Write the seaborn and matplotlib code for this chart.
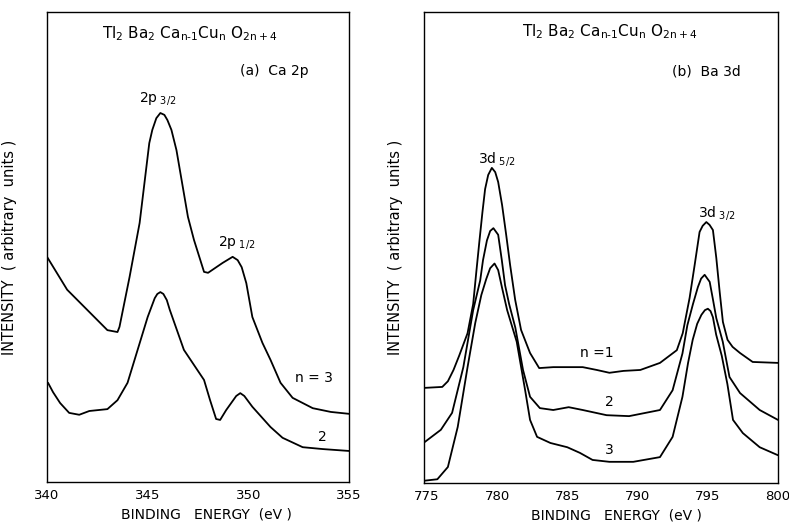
import matplotlib
matplotlib.use("Agg")
import matplotlib.pyplot as plt
import seaborn as sns
import pandas as pd

# ---------------- data ----------------
# (a) Ca 2p
ca_energy_n3 = [340.0, 341.0, 342.0, 343.0, 343.5, 343.6, 344.1, 344.6, 345.08, 345.23, 345.43, 345.63,
                345.83, 345.98, 346.18, 346.43, 347.0, 347.3, 347.8, 348.0, 348.72, 349.22, 349.47, 349.67,
                349.9, 350.2, 350.7, 351.1, 351.6, 352.2, 353.2, 354.1, 355.0]
ca_int_n3 = [47.9, 40.9, 36.6, 32.3, 31.9, 33.0, 43.6, 55.1, 72.1, 74.9, 77.4, 78.5,
             78.1, 77.0, 74.9, 70.6, 56.4, 51.5, 44.7, 44.5, 46.6, 47.9, 47.2, 45.7,
             42.3, 35.1, 29.6, 26.0, 21.1, 17.9, 15.7, 14.9, 14.5]

ca_energy_n2 = [340.05, 340.3, 340.65, 341.1, 341.6, 342.1, 343.0, 343.5, 344.0, 344.5, 345.0, 345.35,
                345.48, 345.63, 345.78, 345.95, 346.1, 346.8, 347.3, 347.8, 348.1, 348.4, 348.6, 348.9,
                349.4, 349.6, 349.8, 350.2, 351.1, 351.7, 352.7, 353.7, 355.0]
ca_int_n2 = [21.1, 19.1, 16.8, 14.7, 14.3, 15.1, 15.5, 17.4, 21.1, 28.1, 35.1, 39.1,
             40.0, 40.4, 40.0, 38.7, 36.6, 28.1, 24.9, 21.7, 17.4, 13.4, 13.2, 15.3,
             18.3, 18.9, 18.3, 16.0, 11.7, 9.4, 7.4, 7.0, 6.6]

# (b) Ba 3d
ba_energy_n1 = [774.85, 776.1, 776.5, 776.9, 777.3, 777.9, 778.3, 778.53, 778.75, 778.96, 779.15, 779.37,
                779.63, 779.87, 780.08, 780.36, 780.65, 780.93, 781.29, 781.71, 782.35, 783.0, 784.0, 785.0,
                786.1, 787.1, 788.0, 789.0, 790.2, 791.6, 792.8, 793.22, 793.71, 794.07, 794.42, 794.64,
                794.9, 795.13, 795.37, 795.61, 795.85, 796.08, 796.41, 796.77, 797.3, 798.2, 800.0]
ba_int_n1 = [20.2, 20.4, 21.6, 24.0, 27.0, 31.8, 38.0, 45.0, 51.5, 57.5, 62.4, 65.4,
             66.9, 66.0, 63.9, 59.0, 52.7, 46.3, 38.9, 32.5, 27.6, 24.4, 24.6, 24.6,
             24.6, 24.0, 23.4, 23.8, 24.0, 25.5, 28.2, 31.8, 39.3, 46.3, 53.3, 54.6,
             55.4, 54.8, 53.7, 47.8, 40.6, 34.2, 30.4, 28.9, 27.6, 25.7, 25.5]

ba_energy_n2 = [774.85, 776.0, 776.8, 777.6, 778.3, 778.8, 779.0, 779.28, 779.51, 779.74, 780.08, 780.34,
                780.57, 780.86, 781.3, 781.85, 782.35, 783.05, 784.0, 785.1, 786.1, 787.8, 789.4, 791.6,
                792.5, 793.2, 793.55, 793.95, 794.3, 794.53, 794.78, 795.14, 795.37, 795.61, 796.07, 796.55,
                797.3, 798.7, 800.0]
ba_int_n2 = [8.7, 11.3, 14.9, 24.6, 36.7, 43.0, 47.3, 51.5, 53.5, 54.1, 52.7, 47.3,
             42.0, 38.0, 33.0, 24.0, 18.3, 15.9, 15.5, 16.1, 15.5, 14.4, 14.2, 15.5,
             19.7, 27.5, 33.5, 38.0, 41.6, 43.4, 44.2, 42.7, 39.0, 35.0, 30.0, 22.5,
             19.1, 15.5, 13.4]

ba_energy_n3 = [774.85, 775.75, 776.5, 777.2, 777.9, 778.45, 778.88, 779.23, 779.51, 779.82, 780.08, 780.36,
                780.72, 781.4, 782.0, 782.35, 782.85, 783.8, 785.0, 785.9, 786.8, 788.0, 789.7, 791.6,
                792.5, 793.2, 793.6, 793.93, 794.25, 794.55, 794.8, 795.01, 795.2, 795.37, 795.6, 796.0,
                796.4, 796.8, 797.5, 798.7, 800.0]
ba_int_n3 = [0.5, 0.8, 3.4, 11.9, 24.6, 34.0, 39.9, 43.3, 45.6, 46.6, 45.2, 41.4,
             36.7, 30.0, 19.7, 13.4, 9.8, 8.5, 7.6, 6.4, 4.9, 4.5, 4.5, 5.5,
             9.8, 18.3, 25.5, 30.4, 33.8, 35.7, 36.7, 37.0, 36.5, 35.2, 31.5, 27.0,
             21.0, 13.4, 10.6, 7.6, 5.9]

ca_ticks = [340, 345, 350, 355]
ba_ticks = [775, 780, 785, 790, 795, 800]

# ---------------- style ----------------
sns.set_theme(style="white")
plt.rcParams["font.family"] = ["DejaVu Sans"]
plt.rcParams["mathtext.default"] = "regular"

fig = plt.figure(figsize=(7.89, 5.24), dpi=100)
axL = fig.add_axes([0.0596, 0.0802, 0.3827, 0.8970])
axR = fig.add_axes([0.5374, 0.0782, 0.4486, 0.8990])

LW = 1.3

def draw(ax, xs, ys):
    df = pd.DataFrame({"E": xs, "I": ys})
    sns.lineplot(data=df, x="E", y="I", ax=ax, color="black", lw=LW,
                 estimator=None, sort=False)

draw(axL, ca_energy_n3, ca_int_n3)
draw(axL, ca_energy_n2, ca_int_n2)
draw(axR, ba_energy_n1, ba_int_n1)
draw(axR, ba_energy_n2, ba_int_n2)
draw(axR, ba_energy_n3, ba_int_n3)

axL.set_xlim(340, 355)
axR.set_xlim(774.8, 800)
for ax, ticks in ((axL, ca_ticks), (axR, ba_ticks)):
    ax.set_ylim(0, 100)
    ax.set_xticks(ticks)
    ax.set_yticks([])
    ax.tick_params(axis="x", direction="in", length=4, width=1, colors="black",
                   labelsize=9.5, pad=5)
    for s in ax.spines.values():
        s.set_color("black")
        s.set_linewidth(1.0)
    ax.set_xlabel("BINDING   ENERGY  (eV )", fontsize=10, color="black")
    ax.set_ylabel("INTENSITY  ( arbitrary  units )", fontsize=10.5, color="black")

axL.xaxis.set_label_coords(0.528, -0.055)
axR.xaxis.set_label_coords(0.545, -0.055)
axL.yaxis.set_label_coords(-0.10, 0.5)
axR.yaxis.set_label_coords(-0.06, 0.5)

title = r"Tl$_2$ Ba$_2$ Ca$_{n\text{-}1}$Cu$_n$ O$_{2n+4}$"
tk = dict(fontsize=10, color="black", ha="center", va="center")
tt = dict(fontsize=11, color="black", ha="center", va="center")

axL.text(347.07, 95.3, title, **tt)
axL.text(351.3, 87.4, "(a)  Ca 2p", **tk)
axL.text(345.5, 81.5, r"2p$_{\ 3/2}$", **tk)
axL.text(349.4, 51.0, r"2p$_{\ 1/2}$", **tk)
axL.text(353.25, 22.1, "n = 3", **tk)
axL.text(353.7, 9.6, "2", **tk)

axR.text(788.0, 95.8, title, **tt)
axR.text(794.9, 87.3, "(b)  Ba 3d", **tk)
axR.text(780.0, 68.8, r"3d$_{\ 5/2}$", **tk)
axR.text(795.6, 57.3, r"3d$_{\ 3/2}$", **tk)
axR.text(787.1, 27.6, "n =1", **tk)
axR.text(788.0, 17.2, "2", **tk)
axR.text(788.0, 7.0, "3", **tk)

fig.savefig("out.png", dpi=100, facecolor="white")
